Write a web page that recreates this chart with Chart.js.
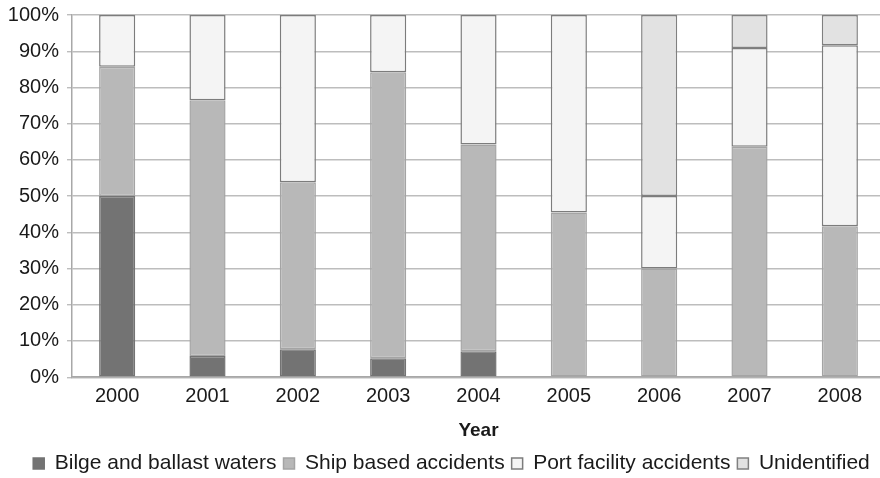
<!DOCTYPE html>
<html>
<head>
<meta charset="utf-8">
<script src="https://cdn.jsdelivr.net/npm/chart.js@4/dist/chart.umd.min.js"></script>
<style>
  html, body { margin: 0; padding: 0; background: #fff; overflow: hidden; }
  #wrap { width: 886px; height: 484px; }
</style>
</head>
<body>
<div id="wrap"><canvas id="chart"></canvas></div>
<script>
const years = ['2000', '2001', '2002', '2003', '2004', '2005', '2006', '2007', '2008'];
const seriesNames = ['Bilge and ballast waters', 'Ship based accidents', 'Port facility accidents', 'Unidentified'];

// share of incidents per year, in percent
const bilge = [50, 5.88, 7.69, 5.26, 7.14, null, null, null, null];
const ship = [35.71, 70.59, 46.15, 78.95, 57.14, 45.45, 30, 63.64, 41.67];
const port = [14.29, 23.53, 46.15, 15.79, 35.71, 54.55, 20, 27.27, 50];
const unidentified = [null, null, null, null, null, null, 50, 9.09, 8.33];

const yTicks = [0, 10, 20, 30, 40, 50, 60, 70, 80, 90, 100];

const fills = ['#737373', '#b8b8b8', '#f4f4f4', '#e2e2e2'];
const edges = ['#737373', '#a4a4a4', '#7c7c7c', '#808080'];

const family = '"Liberation Sans", Arial, sans-serif';
const font = { family: family, size: 20 };

const datasets = [bilge, ship, port, unidentified].map((vals, i) => ({
    label: seriesNames[i],
    data: vals,
    backgroundColor: fills[i],
    borderColor: edges[i],
    borderWidth: 1.5,
    borderSkipped: false,
    barPercentage: 0.4,
    categoryPercentage: 1.0
}));

// legend row sits a little right of centre
const legendNudge = {
    id: 'legendNudge',
    afterLayout(chart) {
        chart.legend.left += 9;
        chart.legend.right += 9;
    }
};

new Chart(document.getElementById('chart'), {
    type: 'bar',
    data: { labels: years, datasets: datasets },
    plugins: [legendNudge],
    options: {
        responsive: true,
        maintainAspectRatio: false,
        animation: false,
        layout: { padding: { top: 15, right: 1, left: 0, bottom: 0 } },
        plugins: {
            legend: {
                position: 'bottom',
                labels: {
                    font: { family: family, size: 21 },
                    color: '#1a1a1a',
                    boxWidth: 11,
                    boxHeight: 11,
                    padding: 7
                }
            },
            tooltip: { enabled: false }
        },
        scales: {
            x: {
                stacked: true,
                grid: { display: false, drawTicks: false, tickLength: 0 },
                border: { display: true, color: '#a8a8a8', width: 1.5 },
                ticks: { font: font, color: '#1a1a1a', padding: 7 },
                title: {
                    display: true,
                    text: 'Year',
                    font: { family: family, size: 19, weight: 'bold' },
                    color: '#1a1a1a',
                    padding: { top: 4, bottom: 4 }
                }
            },
            y: {
                stacked: true,
                min: 0,
                max: 100,
                afterBuildTicks: scale => {
                    scale.ticks = yTicks.map(v => ({ value: v }));
                },
                afterFit: scale => {
                    scale.width = 72;
                    scale.paddingTop = 0;
                },
                grid: { color: '#bdbdbd', lineWidth: 1.4, tickLength: 5 },
                border: { display: true, color: '#a8a8a8', width: 1.5 },
                ticks: {
                    font: font,
                    color: '#1a1a1a',
                    padding: 8,
                    callback: v => v + '%'
                }
            }
        }
    }
});
</script>
</body>
</html>
